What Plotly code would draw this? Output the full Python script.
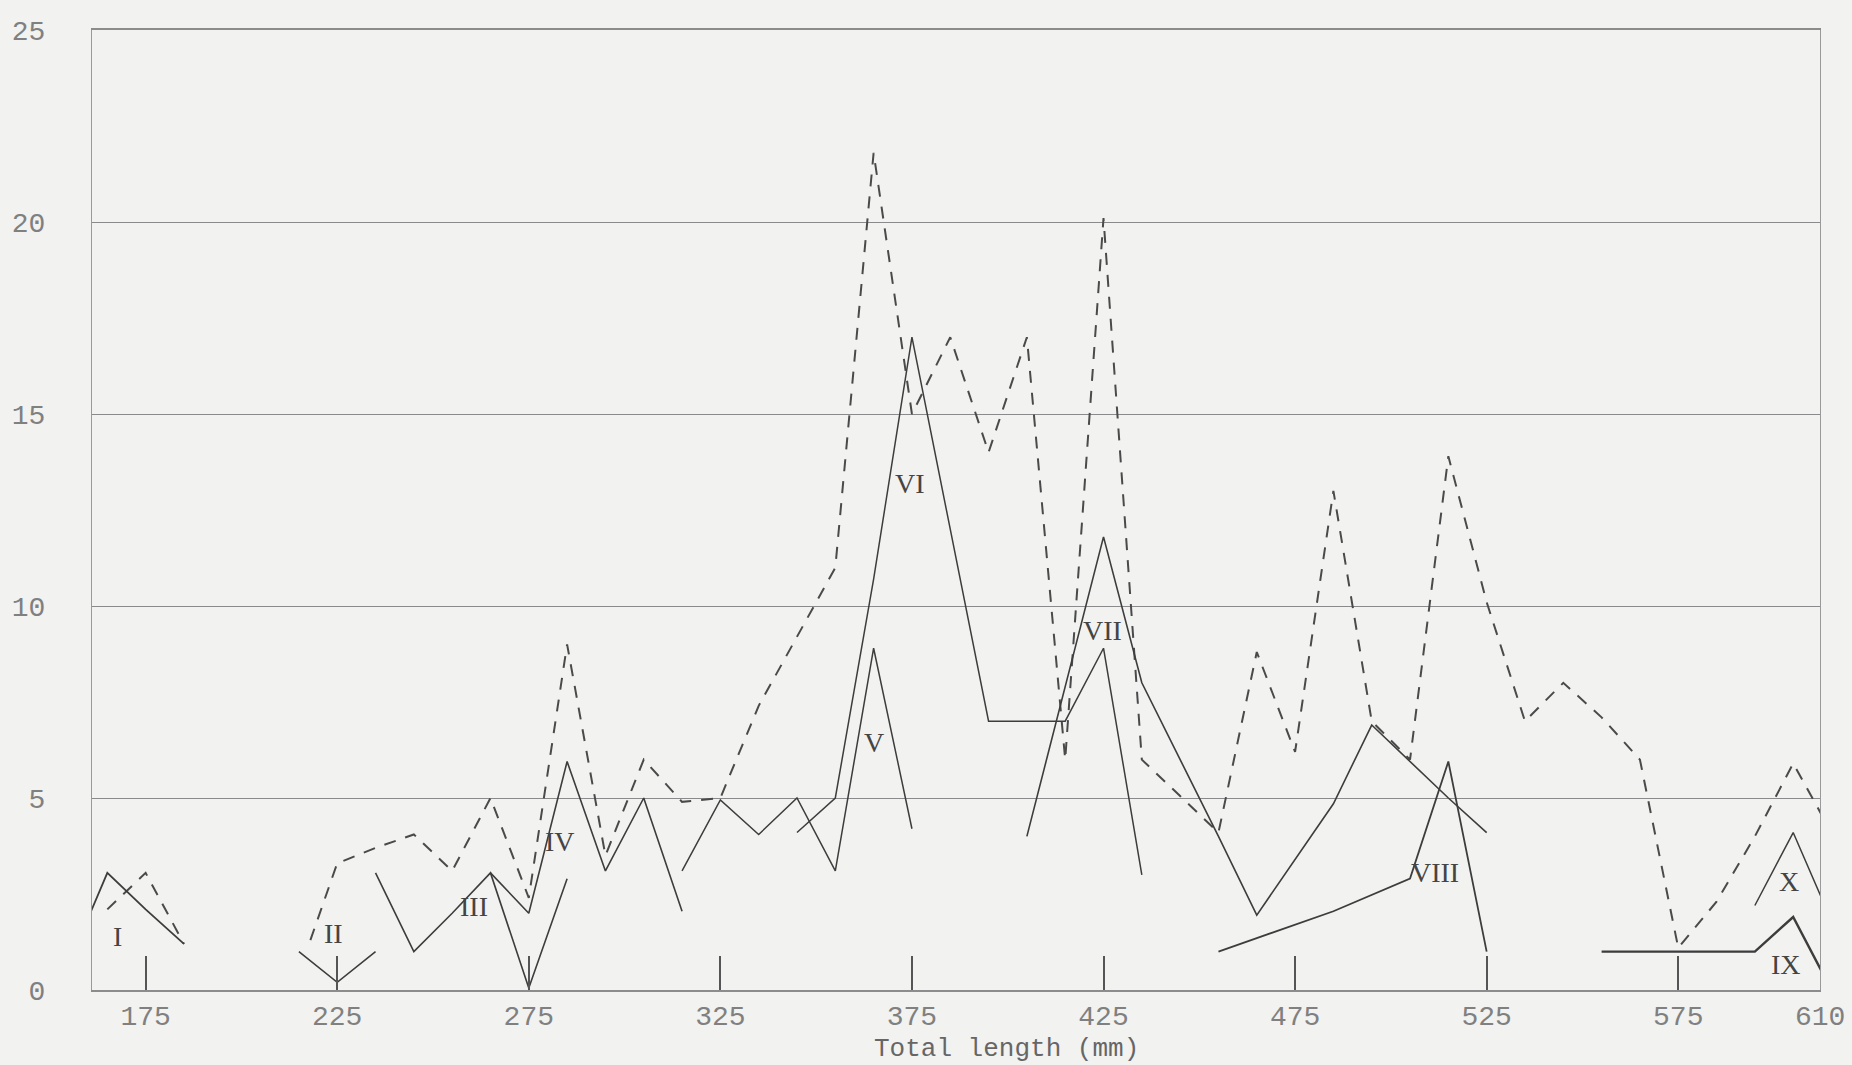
import plotly.graph_objects as go

# Length-frequency polygons by age class (percent of sample per 10 mm class)
class_I_len = [155, 165, 175, 185]
class_I_pct = [0.7, 3.05, 2.1, 1.2]

class_II_len = [215, 225, 235]
class_II_pct = [1.0, 0.2, 1.0]

class_III_len = [235, 245, 255, 265, 275, 285]
class_III_pct = [3.05, 1.0, 2.0, 3.05, 0.05, 2.9]

class_IV_len = [265, 275, 285, 295, 305, 315]
class_IV_pct = [3.05, 2.0, 5.95, 3.1, 5.0, 2.05]

class_V_len = [315, 325, 335, 345, 355, 365, 375]
class_V_pct = [3.1, 4.95, 4.05, 5.0, 3.1, 8.9, 4.2]

class_VI_len = [345, 355, 365, 375, 385, 395, 405, 415, 425, 435]
class_VI_pct = [4.1, 5.0, 10.7, 17.0, 12.0, 7.0, 7.0, 7.0, 8.9, 3.0]

class_VII_len = [405, 415, 425, 435, 445, 455, 465, 475, 485, 495, 505, 515, 525]
class_VII_pct = [4.0, 7.9, 11.8, 8.0, 6.0, 4.0, 1.95, 3.4, 4.85, 6.9, 5.95, 5.0, 4.1]

class_VIII_len = [455, 485, 505, 515, 525]
class_VIII_pct = [1.0, 2.05, 2.9, 5.95, 1.0]

class_IX_len = [555, 565, 575, 585, 595, 605, 615]
class_IX_pct = [1.0, 1.0, 1.0, 1.0, 1.0, 1.9, 0.0]

class_X_len = [595, 605, 615]
class_X_pct = [2.2, 4.1, 1.8]

# All ages combined (dashed polygon); None marks the empty stretch
total_len = [165, 175, 185, None, 218, 225, 235, 245, 255, 265, 275, 285, 295,
             305, 315, 325, 335, 345, 355, 365, 375, 385, 395, 405, 415, 425,
             435, 445, 455, 465, 475, 485, 495, 505, 515, 525, 535, 545, 555,
             565, 575, 585, 595, 605, 615]
total_pct = [2.1, 3.05, 1.2, None, 1.3, 3.3, 3.7, 4.05, 3.1, 5.0, 2.4, 9.0, 3.5,
             6.0, 4.9, 5.0, 7.4, 9.2, 11.0, 21.8, 15.0, 17.0, 14.0, 17.0, 6.0, 20.1,
             6.0, 5.05, 4.1, 8.8, 6.2, 13.0, 7.0, 6.0, 13.9, 10.1, 7.0, 8.0, 7.1,
             6.0, 1.1, 2.3, 4.0, 5.9, 4.1]

# Roman-numeral age labels placed beside each polygon
age_labels = ["I", "II", "III", "IV", "V", "VI", "VII", "VIII", "IX", "X"]
label_len = [167.6, 224.0, 260.6, 283.2, 365.2, 374.4, 424.7, 511.6, 603.0, 603.8]
label_pct = [1.39, 1.48, 2.17, 3.87, 6.44, 13.2, 9.36, 3.06, 0.67, 2.82]

x_tick_vals = [175, 225, 275, 325, 375, 425, 475, 525, 575]
x_tick_text = ["175", "225", "275", "325", "375", "425", "475", "525", "575"]
y_tick_vals = [0, 5, 10, 15, 20, 25]

PAPER = "#f2f2f1"
INK = "#3d3d3d"

fig = go.Figure()

fig.add_trace(go.Scatter(
    x=total_len, y=total_pct, mode="lines", connectgaps=False,
    line=dict(color="#4a4a4a", width=2, dash="12px,10px"), hoverinfo="skip"))

classes = [
    (class_I_len, class_I_pct, 1.8), (class_II_len, class_II_pct, 1.6),
    (class_III_len, class_III_pct, 1.6), (class_IV_len, class_IV_pct, 1.6),
    (class_V_len, class_V_pct, 1.5), (class_VI_len, class_VI_pct, 1.5),
    (class_VII_len, class_VII_pct, 1.6), (class_VIII_len, class_VIII_pct, 1.8),
    (class_IX_len, class_IX_pct, 2.4), (class_X_len, class_X_pct, 1.5),
]
for xs, ys, w in classes:
    fig.add_trace(go.Scatter(
        x=xs, y=ys, mode="lines",
        line=dict(color=INK, width=w), hoverinfo="skip"))

for txt, lx, ly in zip(age_labels, label_len, label_pct):
    fig.add_annotation(x=lx, y=ly, text=txt, showarrow=False,
                       font=dict(family="Liberation Serif", size=28, color="#444444"))

# right-hand end of the length scale
fig.add_annotation(xref="paper", yref="paper", x=1.0, y=-0.029,
                   xanchor="center", yanchor="middle",
                   text="610", showarrow=False,
                   font=dict(family="Liberation Mono", size=28, color="#808080"))

fig.add_annotation(xref="paper", yref="paper", x=0.529, y=-0.061,
                   xanchor="center", yanchor="middle",
                   text="Total length (mm)", showarrow=False,
                   font=dict(family="Liberation Mono", size=26, color="#666666"))

fig.update_layout(
    width=1852, height=1065,
    margin=dict(l=92, r=32, t=30, b=75),
    paper_bgcolor=PAPER, plot_bgcolor=PAPER,
    showlegend=False,
    font=dict(family="Liberation Mono", color="#808080"),
)

fig.update_xaxes(
    range=[161, 612], tickmode="array", tickvals=x_tick_vals, ticktext=x_tick_text,
    ticks="inside", ticklen=34, tickwidth=2, tickcolor="#555555",
    tickfont=dict(family="Liberation Mono", size=28, color="#808080"),
    showgrid=False, zeroline=False,
    showline=True, linecolor="#8c8c8c", linewidth=1.5, mirror=True,
)
fig.update_yaxes(
    range=[0, 25], tickmode="array", tickvals=y_tick_vals,
    ticks="", ticklabelstandoff=40,
    tickfont=dict(family="Liberation Mono", size=28, color="#808080"),
    showgrid=True, gridcolor="#8a8a8a", gridwidth=1, zeroline=False,
    showline=True, linecolor="#9a9a9a", linewidth=1.2, mirror=True,
)

fig.write_html("out.html")
